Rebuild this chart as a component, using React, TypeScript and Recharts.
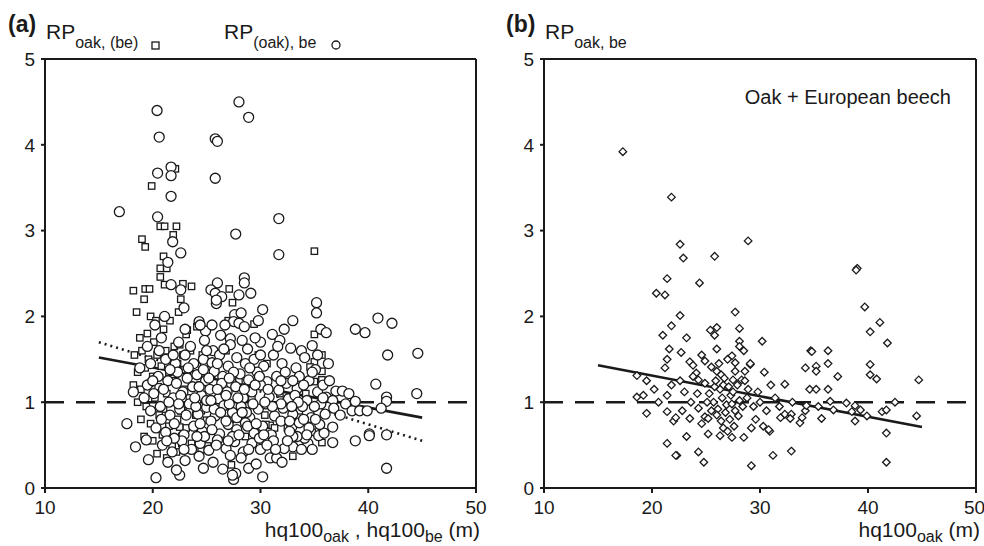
import { ScatterChart, Scatter, XAxis, YAxis, ReferenceLine } from 'recharts';

const FONT = '"Liberation Sans", Arial, Helvetica, sans-serif';
const INK = '#1a1a1a';

const xTicks = [10, 20, 30, 40, 50];
const yTicks = [0, 1, 2, 3, 4, 5];

// panel (a): RP oak,(be) squares
const squaresA: [number, number][] = [
  [22.1, 3.72], [19.9, 3.52], [20.7, 3.05], [21.1, 3.05], [22.2, 3.05], [21.9, 2.95], [19.3, 2.81], [21.0, 2.70],
  [20.7, 2.56], [21.3, 2.56], [20.7, 2.46], [19.3, 2.32], [19.7, 2.32], [21.1, 2.37], [22.8, 2.38], [27.1, 2.32],
  [27.4, 2.16], [27.0, 1.95], [29.4, 1.91], [23.1, 1.79], [23.2, 1.84], [24.1, 1.88], [35.0, 1.79], [35.7, 1.55],
  [35.0, 1.47], [35.7, 1.36], [34.6, 1.41], [35.0, 1.24], [35.7, 1.26], [35.7, 0.53], [33.0, 0.37], [31.3, 0.40],
  [29.9, 0.50], [27.3, 0.27], [35.0, 2.76], [18.5, 2.05], [19.2, 2.2], [19.8, 2.0], [20.3, 1.95], [18.8, 1.75],
  [19.5, 1.8], [20.1, 1.7], [21.0, 1.85], [21.6, 1.95], [22.4, 2.05], [18.3, 1.55], [19.0, 1.6], [19.6, 1.5],
  [20.4, 1.55], [21.2, 1.6], [22.0, 1.65], [22.8, 1.55], [23.5, 1.6], [18.6, 1.35], [19.3, 1.4], [20.0, 1.3],
  [20.8, 1.42], [21.5, 1.35], [22.3, 1.45], [23.0, 1.38], [23.8, 1.32], [18.2, 1.2], [18.9, 1.15], [19.7, 1.22],
  [20.5, 1.18], [21.3, 1.1], [22.1, 1.25], [22.9, 1.15], [24.4, 1.2], [18.6, 1.0], [19.4, 0.95], [20.2, 1.05],
  [21.0, 0.92], [21.8, 1.0], [22.6, 0.9], [23.4, 1.05], [18.9, 0.8], [19.8, 0.75], [20.6, 0.85], [21.5, 0.72],
  [22.3, 0.8], [23.1, 0.7], [24.0, 0.85], [19.2, 0.6], [20.0, 0.55], [20.9, 0.62], [21.8, 0.5], [22.7, 0.6],
  [23.6, 0.52], [20.4, 0.4], [21.3, 0.35], [22.2, 0.42], [24.5, 0.45], [25.2, 0.95], [25.8, 1.4], [26.4, 1.1],
  [27.2, 0.8], [28.0, 1.25], [28.6, 0.6], [29.2, 1.05], [30.4, 0.85], [31.8, 1.1], [32.5, 0.7], [33.6, 0.9],
  [34.2, 1.1], [34.8, 0.65], [36.0, 0.95], [30.6, 1.45], [26.8, 1.6], [24.6, 1.55], [23.6, 2.35], [22.6, 2.2],
  [19.0, 2.9], [18.2, 2.3], [22.5, 1.67], [22.8, 0.95], [22.5, 0.71], [22.7, 0.52], [24.5, 0.90], [25.1, 0.49],
  [25.0, 0.79], [30.9, 0.73], [31.3, 0.70], [30.5, 0.74], [29.8, 1.55],
];

// panel (a): RP (oak),be circles
const circlesA: [number, number][] = [
  [20.4, 4.40], [28.0, 4.50], [28.9, 4.32], [20.6, 4.09], [25.8, 4.07], [26.0, 4.04], [21.7, 3.74], [20.45, 3.67],
  [21.7, 3.64], [25.8, 3.61], [21.7, 3.40], [16.9, 3.22], [20.45, 3.16], [21.85, 2.87], [27.7, 2.96], [22.6, 2.74],
  [21.4, 2.63], [21.7, 2.37], [22.6, 2.31], [26.0, 2.39], [28.5, 2.45], [28.5, 2.39], [31.7, 3.14], [31.7, 2.72],
  [25.4, 2.31], [25.8, 2.27], [26.4, 2.23], [28.0, 2.25], [29.1, 2.27], [25.9, 2.15], [25.9, 2.19], [22.9, 2.10],
  [30.2, 2.08], [27.6, 2.02], [28.2, 2.04], [27.5, 1.94], [28.0, 1.92], [28.5, 1.88], [24.3, 1.94], [24.9, 1.83],
  [24.4, 1.90], [35.2, 2.16], [35.2, 2.04], [35.6, 1.85], [36.1, 1.81], [38.8, 1.85], [39.7, 1.81], [40.9, 1.98],
  [42.2, 1.92], [31.1, 1.79], [32.2, 1.85], [31.8, 1.72], [32.8, 1.63], [30.0, 1.70], [27.2, 1.74], [27.2, 1.67],
  [34.8, 1.66], [36.3, 1.45], [35.1, 1.38], [33.3, 1.40], [41.8, 1.55], [44.6, 1.57], [40.7, 1.21], [44.5, 1.10],
  [41.7, 1.06], [41.7, 1.01], [41.2, 0.93], [37.0, 1.13], [37.6, 1.13], [36.1, 1.06], [36.7, 1.02], [37.9, 0.98],
  [38.8, 1.01], [38.5, 0.90], [39.2, 0.90], [39.9, 0.90], [36.2, 0.94], [36.8, 0.93], [35.4, 0.88], [36.0, 0.86],
  [36.7, 0.71], [40.1, 0.63], [40.1, 0.61], [41.7, 0.62], [38.8, 0.55], [36.7, 0.53], [41.7, 0.23], [35.4, 0.61],
  [35.9, 0.64], [34.4, 0.52], [34.1, 0.58], [33.4, 0.60], [33.0, 0.60], [32.9, 0.71], [33.0, 0.48], [30.2, 0.13],
  [27.5, 0.10], [27.7, 0.17], [28.9, 0.23], [24.7, 0.23], [24.3, 0.37], [22.5, 0.15], [30.9, 0.35], [31.5, 0.35],
  [23.5, 1.65], [24.8, 1.72], [25.6, 1.6], [26.3, 1.78], [28.8, 1.62], [29.5, 1.75], [33.8, 1.6], [22.4, 1.7],
  [20.8, 1.75], [21.2, 1.5], [22.1, 1.45], [23.0, 1.55], [24.0, 1.42], [24.7, 1.5], [25.5, 1.46], [26.2, 1.55],
  [27.0, 1.42], [27.8, 1.52], [28.6, 1.45], [29.4, 1.5], [30.3, 1.42], [31.2, 1.55], [32.0, 1.45], [34.1, 1.52],
  [19.8, 1.45], [20.5, 1.3], [21.4, 1.25], [22.3, 1.35], [23.2, 1.28], [24.1, 1.32], [24.9, 1.25], [25.7, 1.36],
  [26.5, 1.3], [27.3, 1.22], [28.1, 1.33], [28.9, 1.26], [29.7, 1.35], [30.6, 1.24], [31.5, 1.3], [32.4, 1.22],
  [33.6, 1.3], [34.5, 1.25], [19.5, 1.2], [20.1, 1.1], [21.0, 1.15], [21.9, 1.05], [22.8, 1.12], [23.7, 1.18],
  [24.5, 1.08], [25.3, 1.15], [26.1, 1.04], [26.9, 1.12], [27.7, 1.18], [28.4, 1.05], [29.2, 1.12], [30.0, 1.2],
  [30.8, 1.06], [31.7, 1.14], [32.6, 1.04], [33.4, 1.16], [34.3, 1.02], [35.3, 1.12], [19.2, 1.05], [19.8, 0.9],
  [20.7, 0.95], [21.6, 0.85], [22.5, 0.92], [23.4, 0.98], [24.2, 0.86], [25.0, 0.94], [25.8, 0.84], [26.6, 0.96],
  [27.4, 0.88], [28.2, 0.95], [29.0, 0.82], [29.8, 0.92], [30.5, 0.98], [31.3, 0.84], [32.1, 0.93], [33.0, 0.86],
  [33.9, 0.95], [34.7, 0.82], [35.6, 0.98], [20.3, 0.7], [21.2, 0.65], [22.0, 0.75], [22.9, 0.62], [23.8, 0.72],
  [24.6, 0.66], [25.4, 0.78], [26.2, 0.63], [27.0, 0.74], [27.8, 0.68], [28.6, 0.76], [29.4, 0.64], [30.2, 0.72],
  [31.0, 0.62], [31.9, 0.78], [32.7, 0.66], [33.6, 0.76], [34.5, 0.7], [35.5, 0.74], [20.9, 0.5], [21.8, 0.42],
  [22.7, 0.55], [23.6, 0.45], [24.4, 0.52], [25.2, 0.44], [26.0, 0.56], [26.8, 0.46], [27.6, 0.54], [28.4, 0.42],
  [29.2, 0.52], [30.0, 0.45], [31.2, 0.55], [32.2, 0.46], [34.8, 0.45], [21.4, 0.3], [23.0, 0.32], [25.6, 0.3],
  [26.5, 0.22], [28.2, 0.35], [29.6, 0.28], [32.0, 0.3], [24.3, 1.18], [25.0, 1.02], [25.7, 0.92], [26.4, 1.22],
  [27.1, 0.98], [27.8, 0.82], [28.5, 1.15], [29.3, 0.98], [24.0, 0.95], [26.0, 1.45], [27.5, 1.35], [25.2, 1.28],
  [28.8, 0.72], [26.8, 0.78], [23.8, 1.45], [22.6, 1.08], [21.6, 1.38], [29.9, 1.3], [30.7, 1.15], [31.9, 0.98],
  [33.2, 1.08], [34.0, 0.8], [35.0, 0.95], [33.0, 1.25], [32.3, 1.35], [34.8, 1.35], [35.8, 1.2], [22.0, 0.58],
  [24.8, 0.6], [27.4, 0.6], [29.9, 0.58], [25.5, 1.9], [26.7, 1.9], [23.0, 1.85], [29.8, 1.95], [33.0, 1.95],
  [35.3, 1.55], [36.4, 1.25], [37.4, 0.85], [38.2, 1.1], [21.1, 2.0], [20.2, 1.9], [19.5, 1.65], [18.8, 1.4],
  [18.2, 1.12], [17.6, 0.75], [18.4, 0.48], [19.4, 0.56], [19.6, 0.33], [20.3, 0.12], [22.2, 0.21], [27.4, 0.15],
  [21.5, 1.0], [22.2, 1.22], [23.1, 0.85], [23.9, 1.05], [24.7, 1.38], [25.5, 0.68], [26.3, 0.88], [27.1, 1.28],
  [27.9, 1.05], [28.7, 0.88], [29.5, 1.2], [30.3, 0.62], [31.1, 0.95], [31.9, 1.25], [32.7, 0.78], [33.5, 1.0],
  [34.3, 0.62], [35.1, 0.8], [22.9, 0.45], [24.1, 0.6], [25.9, 0.5], [27.2, 0.38], [28.9, 0.45], [30.6, 0.5],
  [32.5, 0.55], [33.8, 0.45], [23.3, 1.4], [25.0, 1.6], [26.6, 1.62], [28.3, 1.72], [30.0, 1.55], [31.6, 1.65],
  [21.9, 1.55], [20.6, 1.6], [20.0, 1.25], [20.8, 0.8], [21.3, 0.55], [26.0, 1.15], [27.0, 0.55], [28.0, 0.62],
  [29.0, 1.4], [31.4, 0.45], [34.0, 1.2], [35.8, 1.05], [22.4, 0.98], [24.4, 0.75], [29.6, 0.75], [32.9, 0.95],
  [30.4, 1.0], [25.4, 1.02], [26.8, 1.08], [28.3, 0.88],
];

// panel (b): RP oak,be diamonds
const diamondsB: [number, number][] = [
  [17.3, 3.92], [21.8, 3.39], [22.6, 2.84], [22.9, 2.68], [28.9, 2.88], [25.8, 2.70], [21.4, 2.44], [24.4, 2.39],
  [20.4, 2.27], [21.2, 2.25], [22.6, 2.01], [21.8, 1.89], [21.0, 1.78], [27.7, 2.05], [28.1, 1.86], [25.4, 1.84],
  [26.0, 1.87], [25.8, 1.78], [28.1, 1.71], [28.5, 1.60], [28.1, 1.65], [30.2, 1.71], [26.0, 1.62], [22.7, 1.58],
  [21.4, 1.50], [21.2, 1.40], [18.6, 1.31], [19.5, 1.25], [18.6, 1.06], [19.2, 1.08], [21.4, 1.08], [23.5, 1.47],
  [23.8, 1.43], [24.9, 1.48], [25.5, 1.41], [27.4, 1.54], [27.7, 1.46], [29.1, 1.44], [24.1, 1.34], [23.8, 1.30],
  [24.3, 1.26], [26.0, 1.36], [26.4, 1.32], [27.7, 1.36], [28.6, 1.36], [28.3, 1.26], [28.6, 1.25], [24.9, 1.22],
  [25.8, 1.18], [26.6, 1.20], [27.5, 1.26], [19.5, 0.87], [21.4, 0.89], [22.0, 0.78], [22.2, 0.82], [23.5, 0.81],
  [24.3, 0.93], [24.6, 0.75], [24.9, 0.83], [25.2, 0.81], [21.4, 0.52], [22.3, 0.38], [22.2, 0.38], [24.3, 0.42],
  [24.8, 0.30], [25.2, 0.63], [26.3, 0.61], [27.4, 0.59], [28.5, 0.59], [29.2, 0.26], [29.2, 0.70], [30.3, 0.72],
  [30.9, 0.66], [30.8, 0.68], [31.2, 0.38], [32.9, 0.43], [29.1, 1.45], [32.3, 1.21], [31.9, 0.82], [32.3, 0.86],
  [32.9, 0.86], [32.8, 0.81], [33.7, 0.76], [33.9, 0.82], [34.2, 0.90], [34.3, 0.96], [34.2, 1.40], [35.2, 1.42],
  [35.2, 1.36], [34.7, 1.60], [34.8, 1.59], [36.3, 1.60], [36.3, 1.45], [34.6, 1.15], [35.2, 1.15], [36.3, 1.15],
  [36.5, 1.01], [36.8, 0.91], [35.7, 0.81], [35.4, 0.95], [38.0, 0.99], [38.5, 0.89], [38.8, 0.96], [39.3, 0.91],
  [38.8, 0.78], [39.9, 0.84], [41.3, 0.89], [41.7, 0.91], [41.7, 0.64], [41.7, 0.30], [39.7, 2.11], [41.1, 1.93],
  [40.2, 1.82], [41.8, 1.69], [40.2, 1.44], [40.2, 1.32], [40.8, 1.27], [44.7, 1.26], [44.5, 0.84], [39.0, 2.56],
  [38.9, 2.54], [25.3, 1.1], [25.7, 1.0], [26.1, 0.92], [26.5, 1.05], [26.9, 0.97], [27.3, 1.08], [27.7, 0.9],
  [28.1, 1.02], [25.9, 1.25], [26.3, 1.15], [26.7, 1.28], [27.1, 1.18], [27.5, 1.12], [27.9, 1.2], [26.0, 0.85],
  [26.4, 0.78], [26.8, 0.88], [27.2, 0.8], [27.6, 0.72], [28.0, 0.84], [28.4, 0.95], [26.6, 0.7], [27.0, 0.66],
  [27.4, 0.98], [25.5, 0.9], [25.1, 1.0], [28.8, 1.05], [29.4, 0.95], [30.0, 1.0], [30.6, 0.9], [31.4, 1.05],
  [31.8, 0.95], [33.0, 1.0], [29.8, 1.12], [23.0, 1.12], [23.6, 1.0], [24.2, 1.1], [22.6, 1.25], [20.2, 1.15],
  [21.8, 1.2], [22.8, 0.9], [23.2, 0.6], [24.6, 1.55], [23.2, 1.75], [21.6, 1.62], [20.6, 1.0], [26.2, 1.45],
  [27.0, 1.5], [28.9, 1.15], [29.6, 0.8], [30.4, 1.35], [31.0, 1.2], [37.2, 1.3], [42.5, 1.0],
];

// fitted lines and the RP = 1 line, read at their ends
const unityLine = [{ x: 10, y: 1 }, { x: 50, y: 1 }];
const fitA = [{ x: 15, y: 1.52 }, { x: 45, y: 0.82 }];
const fitADotted = [{ x: 15, y: 1.70 }, { x: 45, y: 0.55 }];
const fitB = [{ x: 15, y: 1.43 }, { x: 45, y: 0.71 }];

const toPts = (arr: [number, number][]) => arr.map(([x, y]) => ({ x, y }));

const NoDot = () => <g />;
const SquareShape = (p: any) => (
  <rect x={p.cx - 3.2} y={p.cy - 3.2} width={6.4} height={6.4} fill="#fff" stroke={INK} strokeWidth={1.3} />
);
const CircleShape = (p: any) => (
  <circle cx={p.cx} cy={p.cy} r={5} fill="#fff" stroke={INK} strokeWidth={1.3} />
);
const DiamondShape = (p: any) => (
  <path d={`M${p.cx},${p.cy - 3.8}L${p.cx + 3.8},${p.cy}L${p.cx},${p.cy + 3.8}L${p.cx - 3.8},${p.cy}Z`}
    fill="#fff" stroke={INK} strokeWidth={1.3} />
);

const axisLine = { stroke: INK, strokeWidth: 2 };
const tickStyle = { fontSize: 19, fill: INK, fontFamily: FONT };

const LineSeries = ({ data, dash }: any) => (
  <Scatter data={data} shape={NoDot} isAnimationActive={false}
    line={{ stroke: INK, strokeWidth: 2.6, strokeDasharray: dash }} />
);

const Panel = ({ left, width, marginLeft, marginRight, children }: any) => (
  <div style={{ position: 'absolute', left, top: 0 }}>
    <ScatterChart width={width} height={546} margin={{ top: 59, right: marginRight, bottom: 28, left: marginLeft }}>
      <XAxis type="number" dataKey="x" domain={[10, 50]} ticks={xTicks} tickSize={5} tickMargin={8}
        axisLine={axisLine} tickLine={axisLine} tick={tickStyle} height={30} />
      <YAxis type="number" dataKey="y" domain={[0, 5]} ticks={yTicks} tickSize={4} tickMargin={6}
        axisLine={axisLine} tickLine={axisLine} tick={tickStyle} width={40} />
      <ReferenceLine y={5} stroke={INK} strokeWidth={2} />
      <ReferenceLine x={50} stroke={INK} strokeWidth={2} />
      {LineSeries({ data: unityLine, dash: '19 12' })}
      {children}
    </ScatterChart>
  </div>
);

export default function App() {
  return (
    <div style={{ position: 'absolute', left: 0, top: 0, width: 984, height: 546, background: '#fff', fontFamily: FONT }}>
      <Panel left={0} width={490} marginLeft={5} marginRight={14}>
        {LineSeries({ data: fitADotted, dash: '2 4' })}
        {LineSeries({ data: fitA })}
        <Scatter data={toPts(squaresA)} shape={SquareShape} isAnimationActive={false} />
        <Scatter data={toPts(circlesA)} shape={CircleShape} isAnimationActive={false} />
      </Panel>
      <Panel left={490} width={494} marginLeft={14} marginRight={8}>
        {LineSeries({ data: fitB })}
        <Scatter data={toPts(diamondsB)} shape={DiamondShape} isAnimationActive={false} />
      </Panel>
      <svg width={984} height={546} style={{ position: 'absolute', left: 0, top: 0, pointerEvents: 'none' }}
        fontFamily={FONT} fill={INK}>
        <text x={8} y={32} fontSize={23} fontWeight="bold">(a)</text>
        <text x={46} y={39} fontSize={21}>RP<tspan fontSize={16} dy={9}>oak, (be)</tspan></text>
        <rect x={152} y={42} width={7} height={7} fill="#fff" stroke={INK} strokeWidth={1.3} />
        <text x={224} y={39} fontSize={21}>RP<tspan fontSize={16} dy={9}>(oak), be</tspan></text>
        <circle cx={336} cy={45} r={4} fill="#fff" stroke={INK} strokeWidth={1.3} />
        <text x={480} y={537} fontSize={21} textAnchor="end">
          hq100<tspan fontSize={16} dy={5}>oak</tspan><tspan dy={-5}> , hq100</tspan>
          <tspan fontSize={16} dy={5}>be</tspan><tspan dy={-5}> (m)</tspan>
        </text>
        <text x={506} y={32} fontSize={23} fontWeight="bold">(b)</text>
        <text x={545} y={39} fontSize={21}>RP<tspan fontSize={16} dy={9}>oak, be</tspan></text>
        <text x={951} y={104} fontSize={20} textAnchor="end">Oak + European beech</text>
        <text x={980} y={537} fontSize={21} textAnchor="end">
          hq100<tspan fontSize={16} dy={5}>oak</tspan><tspan dy={-5}> (m)</tspan>
        </text>
      </svg>
    </div>
  );
}
